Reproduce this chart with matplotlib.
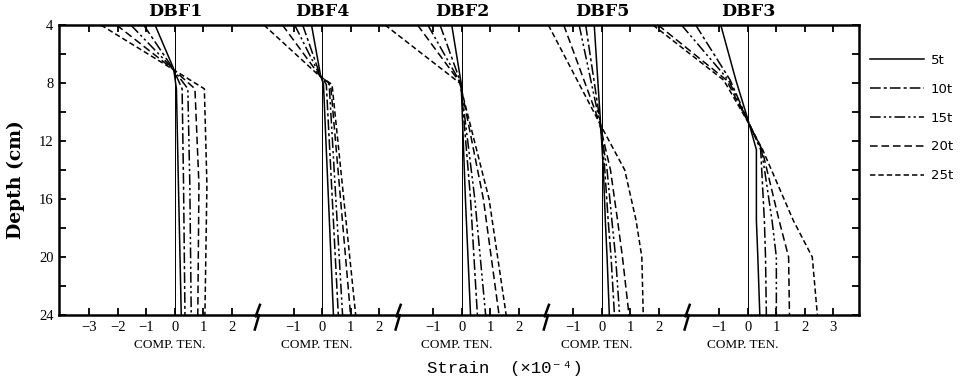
import matplotlib.pyplot as plt
import numpy as np

# load steps shown in the legend
loads = ['5t', '10t', '15t', '20t', '25t']
panels = ['DBF1', 'DBF4', 'DBF2', 'DBF5', 'DBF3']

# depth (cm) and strain (x10^-4) per panel, one row per load
dbf1_depth = [4, 7.0, 8.4, 15, 24]
dbf1_strain = [[-0.70, -0.05, 0.05, 0.12, 0.22],
               [-1.10, -0.07, 0.25, 0.30, 0.35],
               [-1.55, -0.08, 0.45, 0.52, 0.57],
               [-2.05, -0.10, 0.70, 0.84, 0.80],
               [-2.60, -0.12, 1.03, 1.12, 1.05]]

dbf4_depth = [4, 7.5, 8.1, 24]
dbf4_strain = [[-0.37, -0.05, 0.05, 0.40],
               [-0.68, -0.06, 0.15, 0.57],
               [-0.96, -0.07, 0.25, 0.72],
               [-1.39, -0.08, 0.30, 1.00],
               [-2.04, -0.10, 0.35, 1.18]]

dbf2_depth = [4, 8.0, 16, 24]
dbf2_strain = [[-0.36, -0.03, 0.12, 0.30],
               [-0.77, -0.04, 0.30, 0.54],
               [-1.20, -0.05, 0.45, 0.83],
               [-1.56, -0.06, 0.75, 1.30],
               [-2.70, -0.08, 0.95, 1.55]]

dbf5_depth = [4, 10.7, 14, 17.5, 20, 24]
dbf5_strain = [[-0.27, -0.05, 0.05, 0.12, 0.18, 0.26],
               [-0.57, -0.06, 0.10, 0.22, 0.32, 0.44],
               [-0.80, -0.08, 0.18, 0.35, 0.48, 0.62],
               [-1.34, -0.09, 0.30, 0.55, 0.72, 0.95],
               [-1.88, -0.10, 0.80, 1.20, 1.40, 1.45]]

dbf3_depth = [4, 7.8, 10.5, 12.6, 17.5, 20, 24]
dbf3_strain = [[-0.95, -0.42, 0.00, 0.30, 0.30, 0.35, 0.42],
               [-1.83, -0.62, -0.02, 0.45, 0.58, 0.62, 0.65],
               [-2.33, -0.68, -0.03, 0.48, 0.85, 1.00, 1.00],
               [-3.15, -0.75, -0.04, 0.50, 1.10, 1.43, 1.46],
               [-3.33, -0.85, -0.05, 0.52, 1.60, 2.26, 2.44]]

depths = [dbf1_depth, dbf4_depth, dbf2_depth, dbf5_depth, dbf3_depth]
strains = [dbf1_strain, dbf4_strain, dbf2_strain, dbf5_strain, dbf3_strain]

# strain ticks under each panel
tick_sets = [[-3, -2, -1, 0, 1, 2], [-1, 0, 1, 2], [-1, 0, 1, 2],
             [-1, 0, 1, 2], [-1, 0, 1, 2, 3]]

# layout: where each panel's zero sits on the shared axis, and break marks
zero_pos = [0, 5.16, 10.07, 14.98, 20.1]
break_pos = [2.88, 7.82, 13.02, 17.96]
styles = ['-', (0, (7, 2, 2, 2)), (0, (7, 2, 1.5, 2, 1.5, 2)),
          (0, (5, 2.5)), (0, (3.5, 2))]

fig = plt.figure(figsize=(9.61, 3.8), dpi=100)
ax = fig.add_axes([59 / 961, 1 - 315 / 380, 800 / 961, 290 / 380])

for i, name in enumerate(panels):
    z = zero_pos[i]
    ax.axvline(z, color='k', lw=0.7)
    for j, load in enumerate(loads):
        ax.plot(z + np.array(strains[i][j]), depths[i], color='k',
                ls=styles[j], lw=1.1, label=load if i == 0 else None)
    ax.text(z, 1.045, name, transform=ax.get_xaxis_transform(),
            ha='center', va='center', fontsize=12.5, fontweight='bold',
            family='DejaVu Serif')
    ax.text(z - 0.17, -0.105, 'COMP. TEN.', transform=ax.get_xaxis_transform(),
            ha='center', va='center', fontsize=9.5, family='Liberation Serif')

# x ticks gathered from all panels
xt = []
xl = []
for i, ticks in enumerate(tick_sets):
    for t in ticks:
        xt.append(zero_pos[i] + t)
        xl.append(str(t).replace('-', '\u2212'))
ax.set_xticks(xt)
ax.set_xticklabels(xl, family='Liberation Serif', fontsize=10.5)

ax.set_yticks(range(4, 25, 2))
ax.set_yticklabels([str(d) if d % 4 == 0 else '' for d in range(4, 25, 2)],
                   family='Liberation Serif', fontsize=10.5)
ax.tick_params(direction='in', top=True, right=True, length=5, width=1.3, pad=4)

ax.set_xlim(-4.07, 24.0)
ax.set_ylim(24, 4)
for s in ax.spines.values():
    s.set_linewidth(1.8)

# break marks on the bottom axis
for b in break_pos:
    ax.plot([b + 0.1, b - 0.05, b + 0.07, b - 0.08], [23.3, 24.1, 24.0, 25.0],
            color='k', lw=1.8, clip_on=False)

ax.legend(loc='upper left', bbox_to_anchor=(1.014, 0.9), frameon=False,
          fontsize=9.5, handlelength=4.1, handletextpad=0.5, labelspacing=1.2,
          borderpad=0, borderaxespad=0)

fig.text(505 / 961, 1 - 368 / 380, 'Strain  (\u00d710\u207b\u2074)',
         ha='center', va='center', fontsize=12.5,
         family=['Liberation Mono', 'DejaVu Sans Mono', 'DejaVu Sans'])
fig.text(16 / 961, 0.526, 'Depth (cm)', rotation=90, ha='center', va='center',
         fontsize=13.5, fontweight='bold', family='DejaVu Serif')

fig.savefig('out.png', dpi=100)
